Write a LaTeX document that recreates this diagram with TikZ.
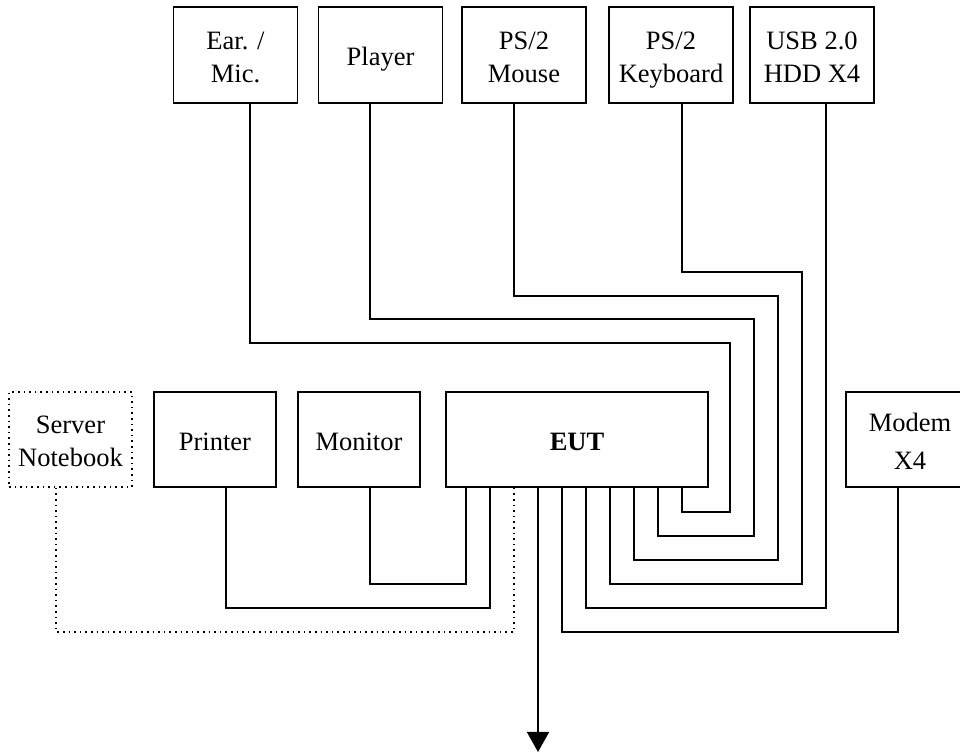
\documentclass[tikz,border=0pt]{standalone}
\usepackage{fontspec}
\setmainfont{Liberation Serif}
\usetikzlibrary{arrows.meta}
\newcommand\mytopstrut{\rule{0pt}{15.5pt}}
\tikzset{
  box/.style={draw, line width=0.8pt, minimum width=62pt, minimum height=48pt, inner sep=0pt, align=center, font=\fontsize{13.25}{16.5}\selectfont},
  dotbox/.style={box, dotted},
  wire/.style={line width=0.8pt},
  dotwire/.style={line width=0.8pt, dotted},
}
\begin{document}
\begin{tikzpicture}[x=0.5pt,y=-0.5pt]
\useasboundingbox (0,0) rectangle (960,753);
% top devices
\node[box] (ear) at (235.5,55) {\mytopstrut\strut Ear. /\\\strut Mic.};
\node[box] (player) at (380.5,55) {\mytopstrut\strut Player};
\node[box] (mouse) at (524,55) {\mytopstrut\strut PS/2\\\strut Mouse};
\node[box] (kbd) at (671,55) {\mytopstrut\strut PS/2\\\strut Keyboard};
\node[box] (usb) at (812,55) {\mytopstrut\strut USB 2.0\\\strut HDD X4};
% middle row
\node[dotbox, minimum width=61.5pt, minimum height=47.5pt] (srv) at (70.5,439.5) {\mytopstrut\strut Server\\\strut Notebook};
\node[box, minimum width=61pt, minimum height=47.5pt] (prn) at (215,439.5) {\mytopstrut\strut Printer};
\node[box, minimum width=61pt, minimum height=47.5pt] (mon) at (359,439.5) {\mytopstrut\strut Monitor};
\node[box, minimum width=131pt, minimum height=47.5pt, font=\fontsize{13.25}{16.5}\selectfont\bfseries] (eut) at (577,439.5) {\mytopstrut\strut EUT};
\node[box, minimum width=64pt, minimum height=47.5pt] (mdm) at (910,439.5) {\mytopstrut\strut Modem\\[2.5pt]\strut X4};
% x positions of the wires
\foreach \n/\x in {xear/250, xpl/370, xms/514, xkb/682, xusb/826,
  xsrv/56, xprn/226, xmon/370, xmdm/898,
  e1/466, e2/490, e3/514, e4/538, e5/562, e6/586, e7/610, e8/634, e9/658, e10/682}
  \coordinate (\n) at (\x,0);
\coordinate (arrowend) at (538,752);
% wires from top devices
\draw[wire] (ear.south -| xear) |- (730,343) |- (e10 |- 0,512) -- (eut.south -| e10);
\draw[wire] (player.south -| xpl) |- (754,319) |- (e9 |- 0,536) -- (eut.south -| e9);
\draw[wire] (mouse.south -| xms) |- (778,296) |- (e8 |- 0,560) -- (eut.south -| e8);
\draw[wire] (kbd.south -| xkb) |- (802,272) |- (e7 |- 0,584) -- (eut.south -| e7);
\draw[wire] (usb.south -| xusb) |- (e6 |- 0,608) -- (eut.south -| e6);
% wires from middle row
\draw[wire] (mdm.south -| xmdm) |- (e5 |- 0,632) -- (eut.south -| e5);
\draw[wire] (mon.south -| xmon) |- (e1 |- 0,584) -- (eut.south -| e1);
\draw[wire] (prn.south -| xprn) |- (e2 |- 0,608) -- (eut.south -| e2);
\draw[dotwire] (srv.south -| xsrv) |- (e3 |- 0,632) -- (eut.south -| e3);
% output arrow
\draw[wire, -{Triangle[width=11pt,length=10pt]}] (eut.south -| e4) -- (arrowend);
\end{tikzpicture}
\end{document}
